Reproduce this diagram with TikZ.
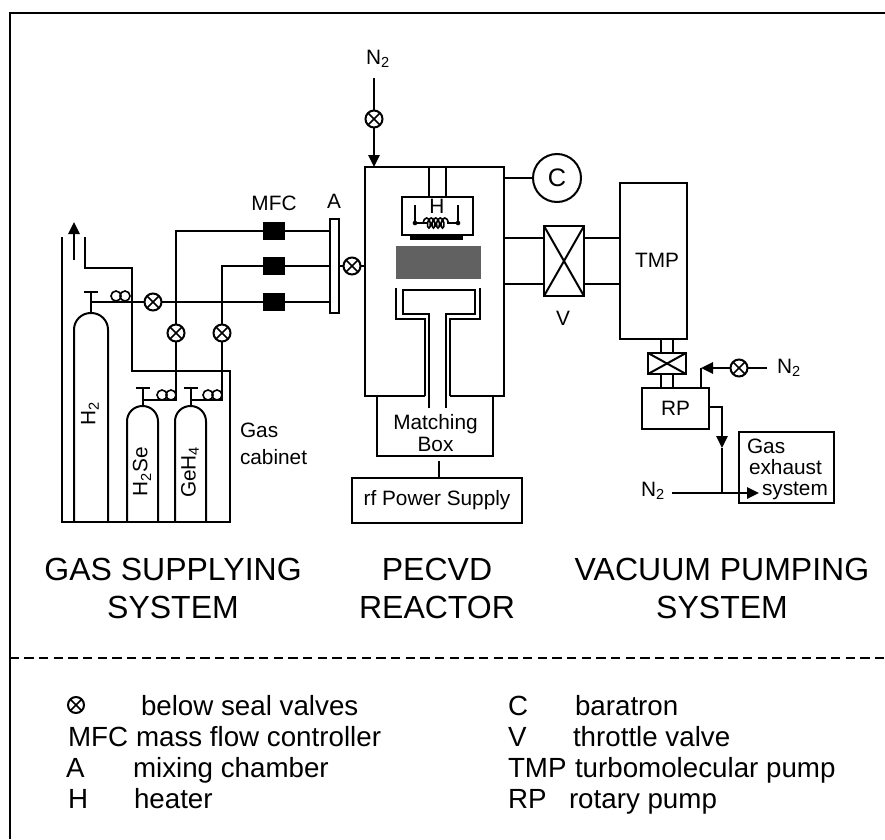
\documentclass[tikz,border=0pt]{standalone}
\usepackage{fontspec}
\setmainfont{Liberation Sans}
\usetikzlibrary{arrows.meta,calc,decorations.pathmorphing}

\newcommand{\smalltxt}{\fontsize{15.6}{16}\selectfont}
\newcommand{\titletxt}{\fontsize{24}{29}\selectfont}
\newcommand{\keytxt}{\fontsize{20.8}{24}\selectfont}

\begin{document}
\begin{tikzpicture}[
    x=0.75pt,y=-0.75pt,
    >={Triangle[length=9pt,width=8.5pt]},
    every path/.style={line width=1.5pt},
    every node/.style={font=\smalltxt,inner sep=0pt,outer sep=0pt},
    unit/.style args={#1x#2}{
        draw,
        rectangle,
        minimum width=#1*0.75pt,
        minimum height=#2*0.75pt
    },
    valve/.style={
        draw,
        circle,
        minimum size=#1*0.75pt,
        path picture={
            \draw[line width=1.1pt] (path picture bounding box.north west) -- (path picture bounding box.south east);
            \draw[line width=1.1pt] (path picture bounding box.north east) -- (path picture bounding box.south west);
        }
    },
    valve/.default=17,
    mfc/.style={
        fill=black,
        rectangle,
        minimum width=16.5pt,
        minimum height=14pt
    },
    coil/.style={
        draw,
        circle,
        line width=1.2pt,
        minimum size=7.5pt
    },
    bullet/.style={
        fill=black,
        circle,
        minimum size=3.5pt
    },
    bottle/.style={rounded corners=#1},
    crossed/.style={
        unit=#1,
        path picture={
            \draw (path picture bounding box.north west) -- (path picture bounding box.south east);
            \draw (path picture bounding box.north east) -- (path picture bounding box.south west);
        }
    },
    sysname/.style={font=\titletxt,align=center},
    legend/.style={font=\keytxt,anchor=base west}
    ]
    \useasboundingbox (0,0) rectangle (885,839);

    % frame and divider
    \draw (885,13) -- (9.5,13) -- (9.5,839);
    \draw[dashed,dash pattern=on 7pt off 4pt] (9.5,658) -- (885,658);

    % gas cabinet with its duct
    \coordinate (DUCTL) at (62,237);
    \coordinate (DUCTR) at (85,237);
    \draw (DUCTL) -- (62,522) -- (230,522) -- (230,371) -- (132,371) -- (132,268) -- (85,268) -- (DUCTR);
    \coordinate (VENTA) at (74,260);
    \coordinate (VENTB) at (74,222);
    \draw[->] (VENTA) -- (VENTB);

    % bottles
    \draw[bottle=12.5pt] (74,522) -- (74,313) -- (108,313) -- (108,522);
    \draw[bottle=11.5pt] (127,522) -- (127,406) -- (158,406) -- (158,522);
    \draw[bottle=11.5pt] (175,522) -- (175,406) -- (206,406) -- (206,522);
    \node[rotate=90] (LABH2) at (90,414) {H\textsubscript{2}};
    \node[rotate=90] (LABSE) at (142,472) {H\textsubscript{2}Se};
    \node[rotate=90] (LABGE) at (190,472) {GeH\textsubscript{4}};
    \node[align=left,anchor=west] (CAB) at (240,443.5) {Gas\\[4pt]cabinet};

    % bottle necks
    \coordinate (NECK1) at (91,313);
    \coordinate (TEE1) at (91,292);
    \coordinate (NECK2) at (143,406);
    \coordinate (TEE2) at (143,388);
    \coordinate (NECK3) at (191,406);
    \coordinate (TEE3) at (191,388);
    \draw (NECK1) -- (TEE1);
    \draw (NECK2) -- (TEE2);
    \draw (NECK3) -- (TEE3);
    \draw (84,292) -- (98,292);
    \draw (136,388) -- (150,388);
    \draw (184,388) -- (198,388);
    \node[coil] (COIL1A) at (116,296) {};
    \node[coil] (COIL1B) at (125,296) {};
    \node[coil] (COIL2A) at (162,395) {};
    \node[coil] (COIL2B) at (171,395) {};
    \node[coil] (COIL3A) at (208,395) {};
    \node[coil] (COIL3B) at (217,395) {};

    % gas lines
    \node[valve] (V1) at (153,302) {};
    \node[valve] (V2) at (176,333) {};
    \node[valve] (V3) at (222,333) {};
    \node[valve] (V4) at (352,266) {};
    \node[mfc] (MFC1) at (274,231) {};
    \node[mfc] (MFC2) at (274,266) {};
    \node[mfc] (MFC3) at (274,302) {};
    \node[unit=9x94] (MIX) at (334,266) {};
    \node (LABMFC) at (274,203) {MFC};
    \node (LABA) at (334,201) {A};
    \coordinate (J1) at (91,302);
    \coordinate (J2) at (143,400);
    \coordinate (J2B) at (176,400);
    \coordinate (J3) at (191,400);
    \coordinate (J3B) at (222,400);
    \draw (J1) -- (V1);
    \draw (V1) -- (MFC3);
    \draw (MFC3) -- (MIX.west |- MFC3);
    \draw (MFC2) -- (MIX.west |- MFC2);
    \draw (MFC1) -- (MIX.west |- MFC1);
    \draw (V2) -- (V2 |- MFC1) -- (MFC1);
    \draw (V3) -- (V3 |- MFC2) -- (MFC2);
    \draw (J2) -- (J2B) -- (V2);
    \draw (J3) -- (J3B) -- (V3);
    \draw (MIX.east |- V4) -- (V4);

    % reactor chamber, open where the feed goes through
    \node (REACT) at (434.5,281.5) [minimum width=104.25pt,minimum height=171.75pt] {};
    \draw (425,396) -- (REACT.south west) -- (REACT.north west) -- (REACT.north east) -- (REACT.south east) -- (450,396);
    \draw (V4) -- (V4 -| REACT.west);

    % heater
    \node[unit=71x38] (HEATBOX) at (437.5,216) {};
    \draw (429,167) -- (429,197);
    \draw (446,167) -- (446,197);
    \node[fill=black,minimum width=39.5pt,minimum height=4pt] (PLATE) at (436.5,237.5) {};
    \node (LABH) at (437,206) {H};
    \draw (415,205) -- (415,223) -- (428,223);
    \draw (458,205) -- (458,223) -- (447,223);
    \draw[line width=1.2pt,decorate,decoration={coil,aspect=0.5,segment length=3.4pt,amplitude=3.8pt}] (423,223) -- (452,223);
    \node[bullet] (DOTL) at (415,223) {};
    \node[bullet] (DOTR) at (458,223) {};

    % plasma
    \node[fill=black!62,minimum width=64pt,minimum height=25pt] (PLASMA) at (438.5,262.5) {};

    % electrode
    \draw (396,288) -- (396,319) -- (425,319) -- (425,396);
    \draw (480,288) -- (480,319) -- (450,319) -- (450,396);
    \draw (429,408) -- (429,314) -- (403,314) -- (403,290) -- (475,290) -- (475,314) -- (446,314) -- (446,408);

    % matching box and rf supply
    \draw (377,396) -- (377,456) -- (493,456) -- (493,396);
    \node[align=center] (MATCH) at (435.5,433) {Matching\\Box};
    \node[unit=170x45] (RF) at (437,500.5) {rf Power Supply};
    \coordinate (RFUP) at (439,461);
    \draw (RFUP) -- (RF.north -| RFUP);

    % top purge
    \node (N2TOP) at (378,59) {N\textsubscript{2}};
    \coordinate (N2A) at (374,78);
    \node[valve] (V5) at (374,119) {};
    \draw (N2A) -- (V5);
    \draw[->] (V5) -- (V5 |- REACT.north);

    % baratron
    \node[draw,circle,minimum size=36pt,font=\fontsize{19}{20}\selectfont] (BARA) at (557,178) {C};
    \draw (BARA.west) -- (BARA.west -| REACT.east);

    % throttle valve and tmp
    \node[crossed=40x70] (THROT) at (564,261) {};
    \node (LABV) at (563,318) {V};
    \node[unit=67x156] (TMP) at (653.5,261) {};
    \node (LABTMP) at (657,260) {TMP};
    \draw (REACT.east |- 0,238) -- (THROT.west |- 0,238);
    \draw (REACT.east |- 0,284) -- (THROT.west |- 0,284);
    \draw (THROT.east |- 0,238) -- (TMP.west |- 0,238);
    \draw (THROT.east |- 0,284) -- (TMP.west |- 0,284);

    % backing valve and rp
    \node[crossed=38x21] (BACK) at (667,363.5) {};
    \node[unit=67x41] (RP) at (675.5,408.5) {RP};
    \draw (TMP.south -| 661,0) -- (BACK.north -| 661,0);
    \draw (TMP.south -| 673,0) -- (BACK.north -| 673,0);
    \draw (BACK.south -| 661,0) -- (RP.north -| 661,0);
    \draw (BACK.south -| 673,0) -- (RP.north -| 673,0);

    % purge of the rp
    \node (N2RP) at (789,368) {N\textsubscript{2}};
    \node[valve] (V6) at (739,368) {};
    \coordinate (N2B) at (767,368);
    \coordinate (RPUP) at (701,368);
    \draw (N2B) -- (V6);
    \draw[->] (V6) -- (RPUP);
    \draw (RPUP) -- (RP.north -| RPUP);

    % exhaust
    \node[unit=95x71] (EXH) at (786.5,467.5) {};
    \node[anchor=base west] (TXTA) at (747,453) {Gas};
    \node[anchor=base west] (TXTB) at (749,474) {exhaust};
    \node[anchor=base west] (TXTC) at (762,495) {system};
    \node (N2EX) at (653,491) {N\textsubscript{2}};
    \coordinate (N2C) at (672,493);
    \coordinate (EXTIP) at (759,493);
    \coordinate (ELB) at (722,407);
    \coordinate (MERGE) at (722,493);
    \draw[->] (N2C) -- (EXTIP);
    \draw[->] (RP.east |- ELB) -- (ELB) -- (722,448);
    \draw (722,448) -- (MERGE);

    % system names
    \node[sysname] (SYSA) at (173,588.5) {GAS SUPPLYING\\SYSTEM};
    \node[sysname] (SYSB) at (437,588.5) {PECVD\\REACTOR};
    \node[sysname] (SYSC) at (722,588.5) {VACUUM PUMPING\\SYSTEM};

    % legend
    \node[valve=16] (KEYV) at (76,705) {};
    \node[legend] (KEY1) at (141,715) {below seal valves};
    \node[legend] (KEYM) at (68,746) {MFC};
    \node[legend] (KEY2) at (136,746) {mass flow controller};
    \node[legend] (KEYA) at (66,777) {A};
    \node[legend] (KEY3) at (133,777) {mixing chamber};
    \node[legend] (KEYH) at (68,808) {H};
    \node[legend] (KEY4) at (134,808) {heater};
    \node[legend] (KEYC) at (508,715) {C};
    \node[legend] (KEY5) at (575,715) {baratron};
    \node[legend] (KEYB) at (508,746) {V};
    \node[legend] (KEY6) at (573,746) {throttle valve};
    \node[legend] (KEYT) at (508,777) {TMP};
    \node[legend] (KEY7) at (575,777) {turbomolecular pump};
    \node[legend] (KEYR) at (508,808) {RP};
    \node[legend] (KEY8) at (569,808) {rotary pump};
\end{tikzpicture}
\end{document}
